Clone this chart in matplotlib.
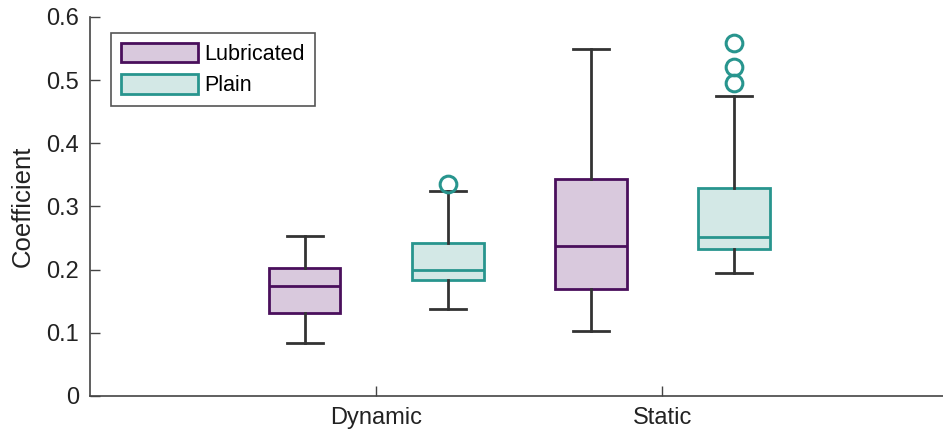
import numpy as np
import matplotlib
matplotlib.use("Agg")
import matplotlib.pyplot as plt
from matplotlib.patches import Patch

plt.rcParams['font.family'] = ['Liberation Sans', 'DejaVu Sans']

categories = ['Dynamic', 'Static']
groups = ['Lubricated', 'Plain']

# box stats: [low whisker, q1, median, q3, high whisker]
lub_stats = [[0.084, 0.131, 0.174, 0.203, 0.253],
             [0.103, 0.170, 0.237, 0.344, 0.550]]
plain_stats = [[0.137, 0.183, 0.200, 0.242, 0.325],
               [0.194, 0.233, 0.251, 0.330, 0.475]]
lub_fliers = [[], []]
plain_fliers = [[0.335], [0.495, 0.521, 0.559]]

edge = {'Lubricated': '#4a0f5c', 'Plain': '#28958e'}
fill = {'Lubricated': '#d9c9dd', 'Plain': '#d3e8e6'}
whisk = '#333333'

fig = plt.figure(figsize=(9.43, 4.37), dpi=100)
ax = fig.add_axes([90/943, 41/437, 853/943, 379/437])

def make_stats(vals, fl):
    lo, q1, med, q3, hi = vals
    return dict(whislo=lo, q1=q1, med=med, q3=q3, whishi=hi, fliers=fl)

pos = np.arange(1, len(categories) + 1)
offs = {'Lubricated': -0.25, 'Plain': 0.25}
for g, st, fl in [('Lubricated', lub_stats, lub_fliers), ('Plain', plain_stats, plain_fliers)]:
    ax.bxp([make_stats(s, f) for s, f in zip(st, fl)], positions=pos + offs[g],
           widths=0.25, patch_artist=True, showfliers=True,
           boxprops=dict(facecolor=fill[g], edgecolor=edge[g], linewidth=2),
           medianprops=dict(color=edge[g], linewidth=2),
           whiskerprops=dict(color=whisk, linewidth=2),
           capprops=dict(color=whisk, linewidth=2),
           capwidths=0.125,
           flierprops=dict(marker='o', markerfacecolor='none', markeredgecolor=edge[g],
                           markersize=12, markeredgewidth=2.2))

ax.set_xlim(0, 2.98)
ax.set_ylim(0, 0.6)
ax.set_xticks(pos)
ax.set_xticklabels(categories)
ax.set_yticks([0, 0.1, 0.2, 0.3, 0.4, 0.5, 0.6])
ax.set_yticklabels(['0', '0.1', '0.2', '0.3', '0.4', '0.5', '0.6'])
ax.tick_params(direction='in', length=7, width=1, colors='#444444', labelcolor='#222222',
               labelsize=17, pad=8)
ax.set_ylabel('Coefficient', fontsize=18.5, color='#222222', labelpad=8)
for s in ['top', 'right']:
    ax.spines[s].set_visible(False)
for s in ['left', 'bottom']:
    ax.spines[s].set_color('#444444')
    ax.spines[s].set_linewidth(1.2)

handles = [Patch(facecolor=fill[g], edgecolor=edge[g], linewidth=2, label=g) for g in groups]
leg = ax.legend(handles=handles, loc='upper left', bbox_to_anchor=(21/853, 363/379),
                borderaxespad=0, fontsize=15.5, handlelength=3.6, handleheight=1.0,
                handletextpad=0.3, labelspacing=0.45, borderpad=0.45,
                fancybox=False, framealpha=1, edgecolor='#555555')
leg.get_frame().set_linewidth(1.2)

fig.savefig('out.png', dpi=100)
